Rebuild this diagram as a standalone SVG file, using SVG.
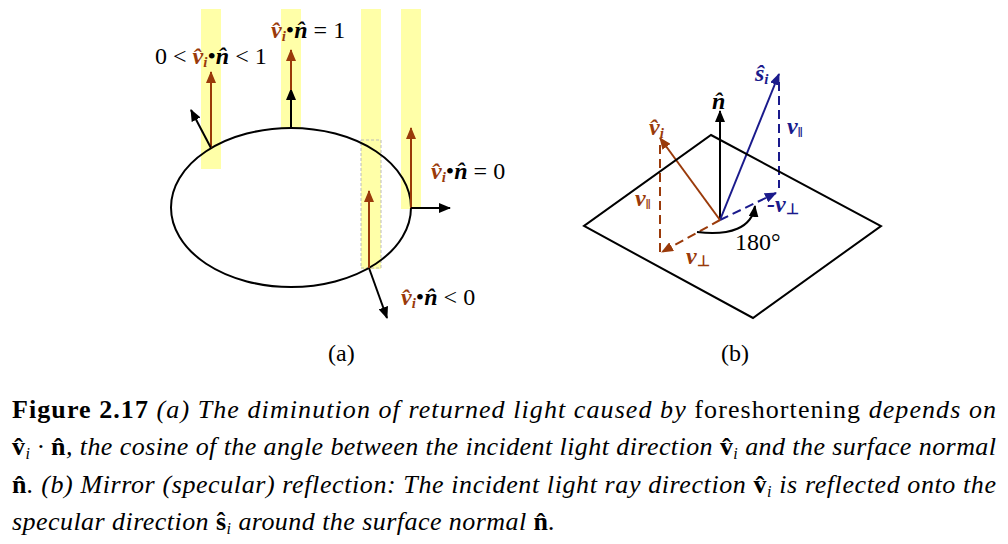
<svg xmlns="http://www.w3.org/2000/svg" width="1008" height="544" viewBox="0 0 1008 544" font-family="'Liberation Serif', 'Times New Roman', serif">
<style>
.lbl{font-size:24px;fill:#000}
.br{fill:#9a3a0a;font-style:italic;font-weight:bold}
.bl{fill:#1a1a8c;font-style:italic;font-weight:bold}
.nb{font-style:italic;font-weight:bold;fill:#000}
.cap{font-size:26px;fill:#000}
.it{font-style:italic}
.bo{font-weight:bold}
.bar{fill:#ffff99;opacity:.85}
.k{stroke:#000;stroke-width:2;fill:none}
.b{stroke:#9a3a0a;stroke-width:2;fill:none}
.u{stroke:#1a1a8c;stroke-width:2;fill:none}
</style>
<defs>
<marker id="ak" markerWidth="12" markerHeight="10" refX="11" refY="5" orient="auto" markerUnits="userSpaceOnUse"><path d="M0,0L12,5L0,10z" fill="#000"/></marker>
<marker id="ab" markerWidth="12" markerHeight="10" refX="11" refY="5" orient="auto" markerUnits="userSpaceOnUse"><path d="M0,0L12,5L0,10z" fill="#9a3a0a"/></marker>
<marker id="au" markerWidth="12" markerHeight="10" refX="11" refY="5" orient="auto" markerUnits="userSpaceOnUse"><path d="M0,0L12,5L0,10z" fill="#1a1a8c"/></marker>
</defs>
<rect width="1008" height="544" fill="#fff"/>
<g id="bars">
<rect class="bar" x="201" y="9" width="20" height="160"/>
<rect class="bar" x="281" y="9" width="20" height="120"/>
<rect class="bar" x="361" y="9" width="20" height="260"/>
<rect class="bar" x="401" y="9" width="20" height="200"/>
<rect x="361" y="140" width="20" height="128" fill="none" stroke="#bbb" stroke-dasharray="3,2" stroke-width="1"/>
</g>
<g id="ellipse"><ellipse cx="291" cy="207.5" rx="120" ry="79.5" class="k"/></g>
<g id="connectors">
<line class="b" x1="211" y1="148" x2="211" y2="72" marker-end="url(#ab)"/>
<line class="k" x1="211" y1="148" x2="191" y2="110" marker-end="url(#ak)"/>
<line class="k" x1="291" y1="128" x2="291" y2="89" marker-end="url(#ak)"/>
<line class="b" x1="291" y1="90" x2="291" y2="50" marker-end="url(#ab)"/>
<line class="b" x1="369" y1="268" x2="369" y2="191" marker-end="url(#ab)"/>
<line class="k" x1="369" y1="268" x2="387" y2="318" marker-end="url(#ak)"/>
<line class="b" x1="411" y1="208" x2="411" y2="128" marker-end="url(#ab)"/>
<line class="k" x1="411" y1="208" x2="450" y2="208" marker-end="url(#ak)"/>
<line class="k" x1="720" y1="220" x2="720" y2="111" marker-end="url(#ak)"/>
<line class="u" x1="720" y1="220" x2="779" y2="74" marker-end="url(#au)" stroke-width="1.6"/>
<line class="u" x1="779" y1="82" x2="779" y2="188" stroke-dasharray="9,5"/>
<line class="u" x1="720" y1="220" x2="776" y2="193" stroke-dasharray="9,5" marker-end="url(#au)"/>
<line class="b" x1="720" y1="220" x2="660" y2="138" marker-end="url(#ab)" stroke-width="1.6"/>
<line class="b" x1="660" y1="145" x2="660" y2="252" stroke-dasharray="9,5"/>
<line class="b" x1="720" y1="220" x2="662" y2="252" stroke-dasharray="9,5" marker-end="url(#ab)"/>
<path class="k" d="M697,232 C730,236 752,228 755,206" marker-end="url(#ak)"/>
</g>
<g id="plane"><polygon points="711,135 881,226 753,318 584,226" class="k" stroke-width="1.6"/></g>
<g id="labels-a" class="lbl">
<text x="155" y="64">0 &lt; <tspan class="br">v̂<tspan font-size="15" dy="3">i</tspan></tspan><tspan dy="-3">•</tspan><tspan class="nb">n̂</tspan> &lt; 1</text>
<text x="271" y="38"><tspan class="br">v̂<tspan font-size="15" dy="3">i</tspan></tspan><tspan dy="-3">•</tspan><tspan class="nb">n̂</tspan> = 1</text>
<text x="431" y="179"><tspan class="br">v̂<tspan font-size="15" dy="3">i</tspan></tspan><tspan dy="-3">•</tspan><tspan class="nb">n̂</tspan> = 0</text>
<text x="401" y="305"><tspan class="br">v̂<tspan font-size="15" dy="3">i</tspan></tspan><tspan dy="-3">•</tspan><tspan class="nb">n̂</tspan> &lt; 0</text>
<text x="328" y="361">(a)</text>
</g>
<g id="labels-b" class="lbl">
<text class="nb" x="712" y="109">n̂</text>
<text class="br" x="649" y="135">v̂<tspan font-size="15" dy="3">i</tspan></text>
<text class="bl" x="755" y="81">ŝ<tspan font-size="15" dy="3">i</tspan></text>
<text class="bl" x="787" y="134">v<tspan font-size="15" font-style="normal" dy="3">‖</tspan></text>
<text class="br" x="635" y="206">v<tspan font-size="15" font-style="normal" dy="3">‖</tspan></text>
<text class="br" x="686" y="264">v<tspan font-size="15" font-style="normal" dy="2">⊥</tspan></text>
<text class="bl" x="767" y="212">-v<tspan font-size="15" font-style="normal" dy="2">⊥</tspan></text>
<text x="735" y="250">180°</text>
<text x="721" y="361">(b)</text>
</g>
<g id="caption" class="cap">
<text x="12" y="418" textLength="984" lengthAdjust="spacing"><tspan class="bo">Figure 2.17</tspan>    <tspan class="it">(a) The diminution of returned light caused by</tspan> foreshortening <tspan class="it">depends on</tspan></text>
<text x="12" y="455" textLength="984" lengthAdjust="spacing" class="it"><tspan class="bo" font-style="normal">v̂</tspan><tspan font-size="16" dy="4">i</tspan><tspan dy="-4"> · </tspan><tspan class="bo" font-style="normal">n̂</tspan>, the cosine of the angle between the incident light direction <tspan class="bo" font-style="normal">v̂</tspan><tspan font-size="16" dy="4">i</tspan><tspan dy="-4"> and the surface normal</tspan></text>
<text x="12" y="493" textLength="984" lengthAdjust="spacing" class="it"><tspan class="bo" font-style="normal">n̂</tspan>. (b) Mirror (specular) reflection: The incident light ray direction <tspan class="bo" font-style="normal">v̂</tspan><tspan font-size="16" dy="4">i</tspan><tspan dy="-4"> is reflected onto the</tspan></text>
<text x="12" y="530" class="it" textLength="543" lengthAdjust="spacing">specular direction <tspan class="bo" font-style="normal">ŝ</tspan><tspan font-size="16" dy="4">i</tspan><tspan dy="-4"> around the surface normal </tspan><tspan class="bo" font-style="normal">n̂</tspan>.</text>
</g>
</svg>
